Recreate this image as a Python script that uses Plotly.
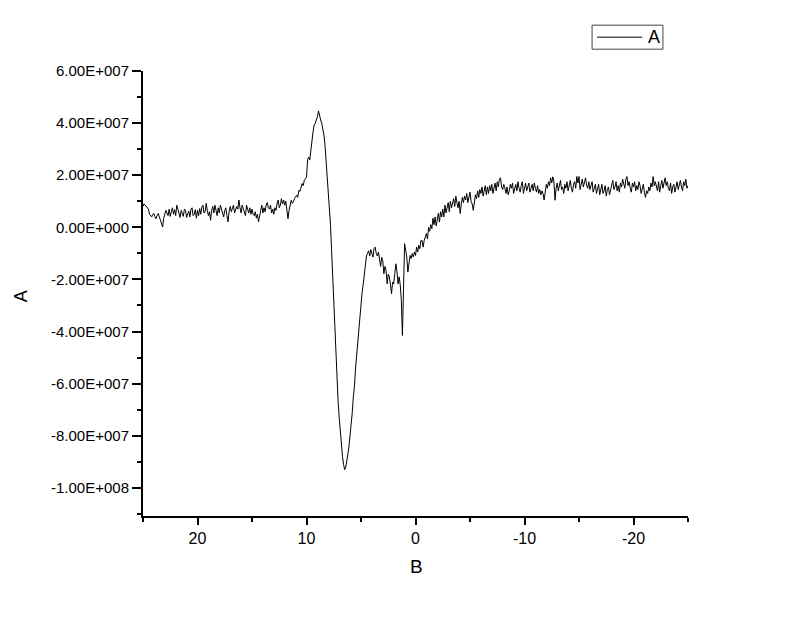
import plotly.graph_objects as go

# Sampling of the B axis (starts at 25, goes down in steps of 0.1)
B_START = 25
B_STEP = -0.1

# Signal A, in units of 1e6, one value per sample (10 per line)
signal = [
    8, 9, 8.5, 8, 7.5, 7, 5, 4.5, 4, 5,
    5.3, 4, 3.3, 4.6, 5.3, 4, 2.7, 1.2, 0.1, 3.5,
    4.6, 6.5, 5.5, 4.5, 7, 4.2, 6, 7.5, 5, 6.8,
    4.5, 8.5, 7, 5.5, 3.8, 6.5, 5, 4.2, 7, 6.5,
    3.8, 5, 6.2, 4, 7, 7.5, 4.5, 5, 6.8, 3.5,
    6.5, 4.5, 7.2, 5, 7.8, 8.5, 5.5, 6, 9.2, 6.5,
    4.5, 6, 2.7, 6.5, 8, 5.5, 8.5, 6.5, 4.5, 7.5,
    5.5, 8.5, 7, 6, 4, 6.5, 7.5, 4.5, 2.1, 6,
    8, 6, 7.5, 8.5, 5.5, 6.5, 8, 7, 10.5, 7.5,
    5.5, 8.5, 7, 5, 4.5, 8.5, 6.5, 5.5, 7.5, 5,
    7, 5, 4.5, 6, 3.5, 5, 2.1, 5, 6.5, 8.5,
    5.5, 7.5, 6, 8.5, 9.5, 7.5, 7, 8.5, 5.5, 7,
    5, 7.5, 6.5, 9, 10.5, 7.5, 8.5, 11, 9, 10.5,
    8.5, 10, 7, 3.3, 6.5, 8.4, 10.4, 9.2, 9.8, 11,
    11.7, 12.3, 11.5, 14.2, 13.8, 14.9, 16.8, 16, 18.1, 18.7,
    19.3, 26, 27, 25.8, 29.6, 34.8, 36.7, 39.2, 39.9, 41.2,
    42.4, 44.7, 42.4, 41.2, 39.9, 38, 35.4, 31.5, 26.1, 20.8,
    14.4, 8, 1, -8.6, -18, -30, -42, -52, -60, -67,
    -73, -79, -84, -88, -91, -93, -92, -90, -87, -84,
    -80, -76, -71, -65, -61, -54, -49, -45, -40, -34,
    -28, -25, -22, -18, -15, -11, -10, -9, -11, -8.5,
    -10, -11.4, -8, -7.6, -10, -11, -9.5, -12, -15, -11.5,
    -13, -17.8, -15, -16.5, -21.7, -18, -19, -22, -25.5, -21,
    -21.7, -17.8, -14, -17, -21.7, -19, -22, -28, -41.5, -24,
    -6.3, -8.8, -11.4, -17.2, -12.7, -10.8, -12, -10.1, -11.4, -9.5,
    -10.8, -7.6, -9.5, -6.9, -8.2, -5, -5, -7.6, -5, -3.5,
    -2.4, -4.5, 0, -1.5, 1, -0.5, 3.5, 1, 4, 0.5,
    3.5, 5.5, 2, 6, 4, 7, 4, 8.5, 5.5, 7,
    9.5, 6, 10, 7.5, 9, 11, 8, 12, 9.5, 7.5,
    10, 5.3, 9, 11.5, 9.5, 12, 10.5, 13, 9.5, 12,
    13.5, 10, 9, 6.5, 10.5, 12.5, 11, 14, 11.5, 14.5,
    13, 15.5, 12, 14.5, 16, 12.5, 15.5, 13, 16, 14,
    16.5, 13, 15.5, 17, 14, 17.5, 15.5, 18.5, 19, 15.5,
    14.5, 16.5, 15, 13, 15.5, 12.5, 14, 16.5, 15, 17,
    13, 15, 16.5, 14, 17.5, 15, 13.5, 16, 17.5, 13,
    15.5, 17, 14, 15.5, 17, 13.5, 15, 16.5, 14, 17,
    15, 13.5, 16, 13, 14.5, 12.5, 14, 13, 10.5, 14,
    16.5, 15, 17.5, 16, 19, 17, 19.4, 17.5, 10.4, 15,
    17, 14, 16, 18, 14.5, 15.5, 13, 16.5, 15, 17.5,
    14, 15.5, 18, 15, 13.5, 16.5, 17.5, 15, 19.5, 17,
    19.5, 14.5, 16, 18.5, 15.5, 17, 19, 16, 15, 17.5,
    14.5, 16, 17.5, 13.5, 15, 16.5, 13, 14.5, 16.5, 12.5,
    15, 16.5, 13, 14, 16, 12, 14.5, 15.5, 12.5, 14,
    16.5, 18, 14.5, 15.5, 17.5, 14, 16, 13.5, 17, 15.5,
    18.5, 16, 15, 18.5, 19.5, 16, 17.5, 15, 13.5, 17,
    15.5, 17.5, 14, 16, 14.5, 17.5, 16, 13, 15.5, 16.5,
    13.5, 11.5, 14, 13, 15.5, 14, 17, 15.5, 19.5, 16,
    17.5, 15, 14, 17.5, 13.5, 16, 18, 15, 17, 19,
    16, 17.5, 15, 14, 17, 13, 15.5, 16.5, 13.5, 16,
    17.5, 14.5, 16, 18, 15.5, 14, 17.5, 16, 18.5, 15,
    16,
]
assert len(signal) == 501

# Axis ticks
xticks = [20, 10, 0, -10, -20]
yticks = [6e7, 4e7, 2e7, 0, -2e7, -4e7, -6e7, -8e7, -1e8]

FONT = 'Arial, Liberation Sans, sans-serif'

# Origin style number labels, e.g. 6.00E+007
def originFormat(v):
    if v == 0:
        return '0.00E+000'
    mant, exp = ('%.2E' % v).split('E')
    sign = '-' if int(exp) < 0 else '+'
    return mant + 'E' + sign + '%03d' % abs(int(exp))

fig = go.Figure()
fig.add_trace(go.Scatter(
    x0=B_START, dx=B_STEP, y=[v * 1e6 for v in signal],
    mode='lines', name='A', line=dict(color='black', width=1),
    showlegend=False))

# The page adds an 8px body margin, so the figure is 8px smaller than the window
fig.update_layout(
    width=792, height=609,
    paper_bgcolor='white', plot_bgcolor='white',
    margin=dict(l=135, r=112, t=63, b=101),
    font=dict(family=FONT, size=15, color='black'),
)

# Legend box drawn like the Origin one: framed line sample plus the name
fig.add_shape(type='rect', xref='paper', yref='paper',
              x0=0.824, x1=0.954, y0=1.049, y1=1.103,
              line=dict(color='#444444', width=1), fillcolor='white')
fig.add_shape(type='line', xref='paper', yref='paper',
              x0=0.833, x1=0.916, y0=1.076, y1=1.076,
              line=dict(color='black', width=1))
fig.add_annotation(text='A', xref='paper', yref='paper', x=0.9376, y=1.077,
                   xanchor='center', yanchor='middle', showarrow=False,
                   font=dict(size=18))

# Axis titles placed as in the original (far left / under the axis)
fig.add_annotation(text='A', xref='paper', yref='paper', x=-0.2459, y=0.494,
                   xanchor='left', yanchor='middle', textangle=-90,
                   showarrow=False, font=dict(size=18))
fig.add_annotation(text='B', xref='paper', yref='paper', x=0.501, y=-0.1124,
                   xanchor='center', yanchor='middle',
                   showarrow=False, font=dict(size=19))

fig.update_xaxes(
    range=[25, -25], showgrid=False, zeroline=False, automargin=False,
    showline=True, linecolor='black', linewidth=2,
    ticks='outside', ticklen=7, tickwidth=1.5, tickcolor='black',
    tickvals=xticks, ticktext=[str(t) for t in xticks], tickfont=dict(size=16),
    minor=dict(ticks='outside', ticklen=4, tickwidth=1.5, tickcolor='black', dtick=5, tick0=0),
)

fig.update_yaxes(
    range=[-1.108e8, 6e7], showgrid=False, zeroline=False, automargin=False,
    showline=True, linecolor='black', linewidth=2,
    ticks='outside', ticklen=9, tickwidth=1.5, tickcolor='black',
    tickvals=yticks, ticktext=[originFormat(t) for t in yticks],
    minor=dict(ticks='outside', ticklen=4, tickwidth=1.5, tickcolor='black', dtick=1e7, tick0=0),
)

fig.write_html("out.html")
